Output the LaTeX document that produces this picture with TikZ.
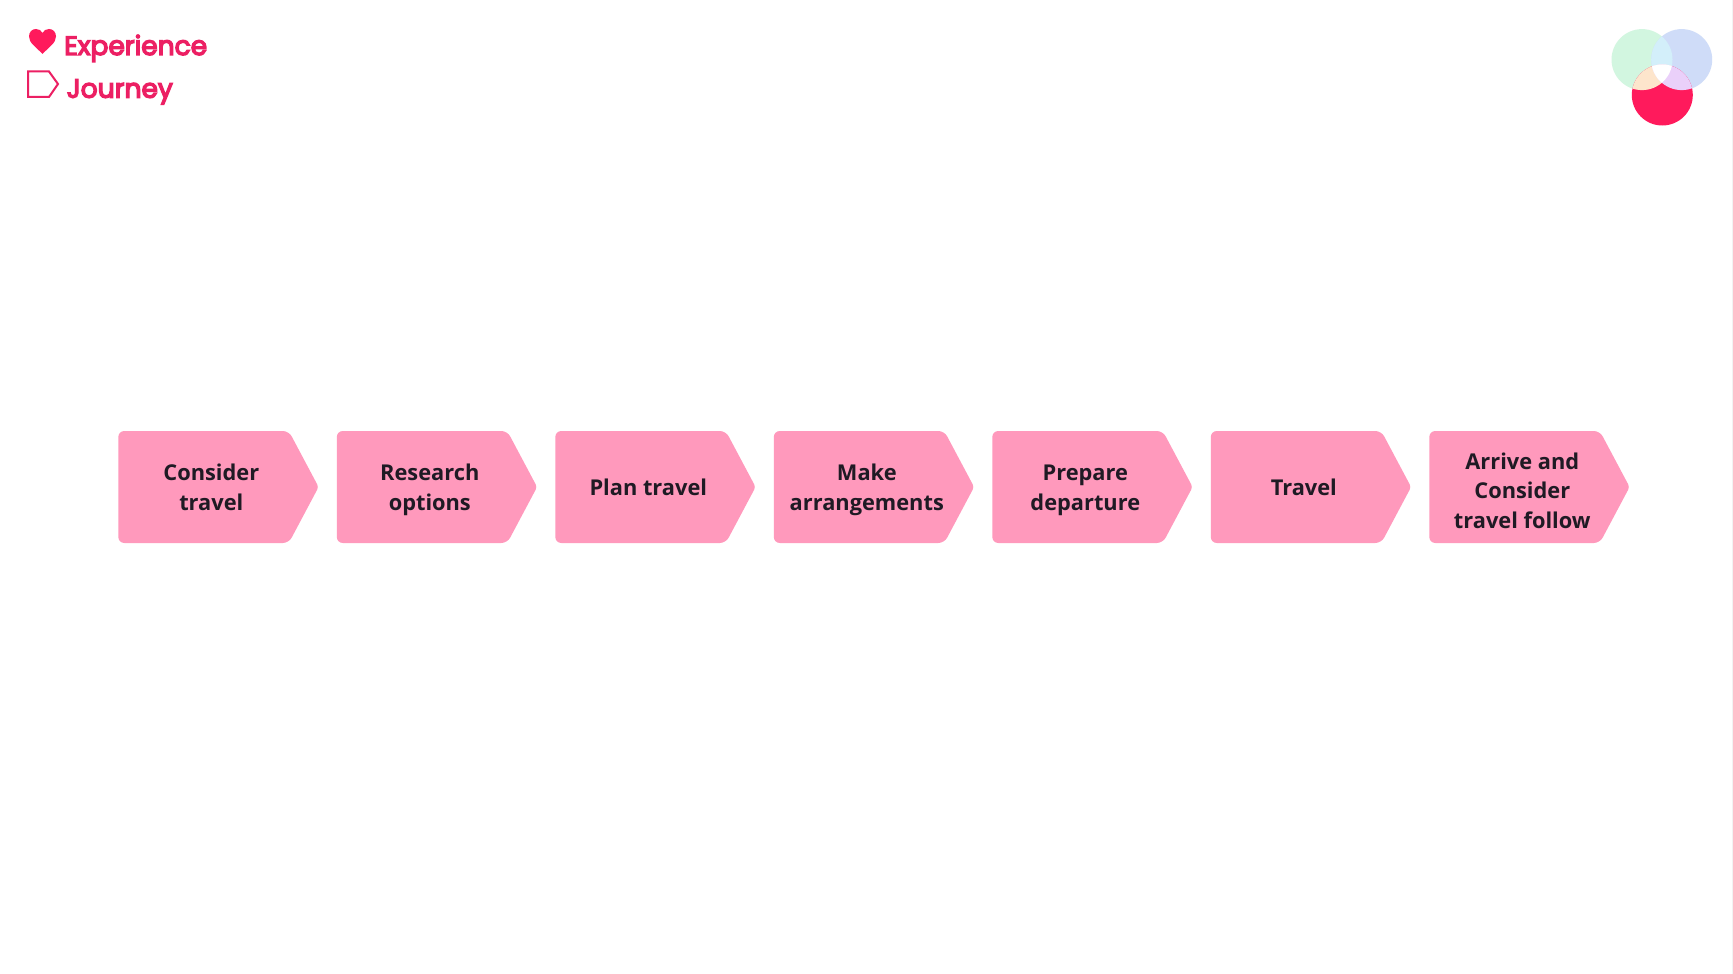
\documentclass[tikz,border=0pt]{standalone}
\usepackage{fontspec}
\setmainfont{Open Sans}
\newfontfamily\titlefont[FakeBold=5]{Poppins}
\definecolor{stagepink}{HTML}{FF99BC}
\definecolor{stageink}{HTML}{1F1A24}
\definecolor{hotpink}{HTML}{FF1A5C}
\definecolor{titlepink}{HTML}{EC1F63}
\definecolor{softgreen}{HTML}{D2F6E0}
\definecolor{softblue}{HTML}{CFDCF8}
\definecolor{mixcyan}{HTML}{D3EFFA}
\definecolor{mixpeach}{HTML}{FDE5CC}
\definecolor{mixlilac}{HTML}{EAD0FA}
\tikzset{
  x=1pt,y=-1pt,
  stagelabel/.style={text=stageink,font=\fontsize{21.8}{29.5}\selectfont\bfseries,align=center,inner sep=0pt,anchor=base},
  titlelabel/.style={text=titlepink,font=\titlefont\fontsize{26.5}{30}\selectfont,anchor=base west,inner sep=0pt},
}
\newcommand{\stageshape}[1]{%
  \fill[stagepink,rounded corners=6pt] (#1,431) -- (#1+170.5,431) [rounded corners=3pt] -- (#1+200.3,487) [rounded corners=6pt] -- (#1+170.5,543) -- (#1,543) -- cycle;}
\begin{document}
\begin{tikzpicture}
\useasboundingbox (0,0) rectangle (1733,974);
\fill[white] (0,0) rectangle (1733,974);
\fill[black!5] (1732,0) rectangle (1733,974);
% title icons
\fill[hotpink] (42.5,54) .. controls (36,47) and (29,43) .. (29,36.5) .. controls (29,32) and (32,29) .. (36,29) .. controls (39,29) and (41.5,30.5) .. (42.5,33) .. controls (43.5,30.5) and (46,29) .. (49,29) .. controls (53,29) and (56,32) .. (56,36.5) .. controls (56,43) and (49,47) .. (42.5,54) -- cycle;
\draw[titlepink,line width=2pt,line join=miter] (28,71.5) -- (49,71.5) -- (58,84) -- (49,97) -- (28,97) -- cycle;
\node[titlelabel] (experience) at (64,55) {Experience};
\node[titlelabel] (journey) at (66.5,97.7) {Journey};
% venn logo
\fill[softgreen] (1642,59.6) circle (30.5);
\fill[softblue] (1681.7,59.6) circle (30.5);
\fill[hotpink] (1662.3,95) circle (30.5);
\begin{scope}
  \clip (1642,59.6) circle (30.5);
  \fill[mixcyan] (1681.7,59.6) circle (30.5);
  \fill[mixpeach] (1662.3,95) circle (30.5);
  \clip (1681.7,59.6) circle (30.5);
  \fill[white] (1662.3,95) circle (30.5);
\end{scope}
\begin{scope}
  \clip (1681.7,59.6) circle (30.5);
  \clip (1662.3,95) circle (30.5);
  \fill[mixlilac] (1600,0) rectangle (1733,140);
  \fill[white] (1642,59.6) circle (30.5);
\end{scope}
% stages
\stageshape{118.3}
\stageshape{336.8}
\stageshape{555.3}
\stageshape{773.8}
\stageshape{992.3}
\stageshape{1210.8}
\stageshape{1429.3}
\node[stagelabel] (s1) at (211.3,510) {Consider\\travel};
\node[stagelabel] (s2) at (429.8,510) {Research\\options};
\node[stagelabel] (s3) at (648.3,495) {Plan travel};
\node[stagelabel] (s4) at (866.8,510) {Make\\arrangements};
\node[stagelabel] (s5) at (1085.3,510) {Prepare\\departure};
\node[stagelabel] (s6) at (1303.8,495) {Travel};
\node[stagelabel] (s7) at (1522.3,528) {Arrive and\\Consider\\travel follow};
\end{tikzpicture}
\end{document}
